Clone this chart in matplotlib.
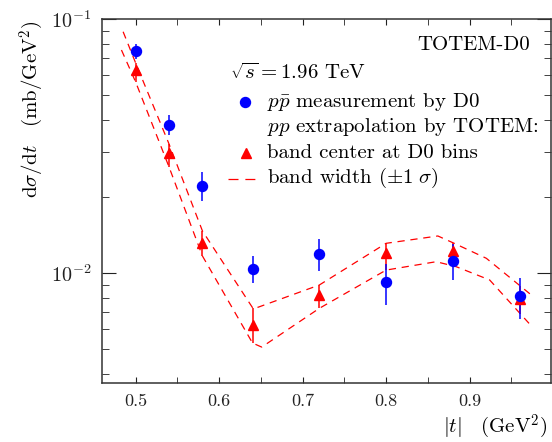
import matplotlib
matplotlib.use("Agg")
import matplotlib.pyplot as plt
from matplotlib.ticker import LogLocator, NullFormatter, FixedLocator
import numpy as np

plt.rcParams['font.family'] = ['cmr10', 'DejaVu Serif']
plt.rcParams['mathtext.fontset'] = 'cm'
plt.rcParams['axes.unicode_minus'] = False
plt.rcParams['axes.formatter.use_mathtext'] = True

# ---- data ----
t_bins = [0.50, 0.54, 0.58, 0.64, 0.72, 0.80, 0.88, 0.96]
d0_vals = [0.0748, 0.0383, 0.0221, 0.0104, 0.0119, 0.0092, 0.0112, 0.0081]
d0_errs = [0.0050, 0.0035, 0.0029, 0.0013, 0.0017, 0.0017, 0.0018, 0.0015]
totem_center = [0.0630, 0.0297, 0.0131, 0.00624, 0.00819, 0.0120, 0.0122, 0.0079]
totem_hi = [0.0671, 0.0322, 0.01464, 0.0073, 0.00897, 0.01309, 0.01316, 0.00893]
totem_lo = [0.0565, 0.02615, 0.01167, 0.0053, 0.00726, 0.01027, 0.01059, 0.0069]

t_upper = [0.485, 0.50, 0.54, 0.58, 0.641, 0.72, 0.80, 0.862, 0.88, 0.92, 0.973]
band_upper = [0.0891, 0.0671, 0.0322, 0.01464, 0.00722, 0.00897, 0.01309, 0.01399, 0.01316, 0.01143, 0.00824]
t_lower = [0.483, 0.50, 0.54, 0.58, 0.64, 0.651, 0.72, 0.80, 0.86, 0.884, 0.924, 0.973]
band_lower = [0.0755, 0.0565, 0.02615, 0.01167, 0.0053, 0.00511, 0.00726, 0.01027, 0.01108, 0.01059, 0.00939, 0.00624]

x_ticklabels = ['0.5', '0.6', '0.7', '0.8', '0.9']

W, H = 552, 442
fig = plt.figure(figsize=(W / 100, H / 100), dpi=100)
ax = fig.add_axes([102 / W, 1 - 383 / H, 449 / W, 364 / H])
ax.set_yscale('log')
ax.set_xlim(0.4597, 0.9975)
ax.set_ylim(0.00369, 0.1)

red = '#ff0000'
blue = '#0000ff'
dash = (5.8, 4.6)

ax.plot(t_upper, band_upper, color=red, lw=0.9, dashes=dash)
ax.plot(t_lower, band_lower, color=red, lw=0.9, dashes=dash)

c = np.array(totem_center)
yerr_t = [c - np.array(totem_lo), np.array(totem_hi) - c]
ax.errorbar(t_bins, totem_center, yerr=yerr_t, fmt='^', color=red, ms=7.5,
            elinewidth=1.1, capsize=0, mec=red, mfc=red)
ax.errorbar(t_bins, d0_vals, yerr=d0_errs, fmt='o', color=blue, ms=7.2,
            elinewidth=1.1, capsize=0, mec=blue, mfc=blue)

# ticks
ax.xaxis.set_major_locator(FixedLocator([0.5, 0.6, 0.7, 0.8, 0.9]))
ax.xaxis.set_minor_locator(FixedLocator([0.5 + 0.05 * i for i in range(-1, 10)]))
ax.set_xticklabels(x_ticklabels)
ax.yaxis.set_major_locator(LogLocator(base=10, numticks=10))
ax.yaxis.set_minor_locator(LogLocator(base=10, subs=np.arange(2, 10), numticks=20))
ax.yaxis.set_minor_formatter(NullFormatter())
ax.tick_params(axis='both', which='both', direction='in', top=True, right=True,
               colors='#222222')
ax.tick_params(axis='x', which='major', length=4.5, pad=8, labelsize=13)
ax.tick_params(axis='x', which='minor', length=4.5)
ax.tick_params(axis='y', which='major', length=10, pad=8, labelsize=14.5)
ax.tick_params(axis='y', which='minor', length=5)
for s in ax.spines.values():
    s.set_linewidth(1.1)
    s.set_color('#333333')

# text & legend
fs = 15
ax.text(0.953, 0.929, 'TOTEM-D0', transform=ax.transAxes, ha='right', va='center', fontsize=fs)
ax.text(0.285, 0.852, r'$\sqrt{s}=1.96$ TeV', transform=ax.transAxes, ha='left', va='center', fontsize=fs)
ax.plot([0.318], [0.773], 'o', color=blue, ms=7.2, transform=ax.transAxes, clip_on=False)
ax.text(0.367, 0.773, r'$p\bar{p}$ measurement by D0', transform=ax.transAxes, ha='left', va='center', fontsize=fs)
ax.text(0.367, 0.704, r'$pp$ extrapolation by TOTEM:', transform=ax.transAxes, ha='left', va='center', fontsize=fs)
ax.plot([0.320], [0.633], '^', color=red, ms=7.5, transform=ax.transAxes, clip_on=False)
ax.text(0.367, 0.631, 'band center at D0 bins', transform=ax.transAxes, ha='left', va='center', fontsize=fs)
ax.plot([0.281, 0.355], [0.5595, 0.5595], color=red, lw=0.9, dashes=(8, 5.5), transform=ax.transAxes, clip_on=False)
ax.text(0.367, 0.563, r'band width ($\pm1\ \sigma$)', transform=ax.transAxes, ha='left', va='center', fontsize=fs)

fig.text(32 / W, 1 - 21 / H, r'$\mathrm{d}\sigma/\mathrm{d}t\quad(\mathrm{mb/GeV}^2)$', rotation=90,
         ha='center', va='top', fontsize=fs)
fig.text(547 / W, 1 - 433 / H, r'$|t|\quad(\mathrm{GeV}^2)$', ha='right', va='baseline', fontsize=fs)

fig.savefig('out.png', dpi=100)
